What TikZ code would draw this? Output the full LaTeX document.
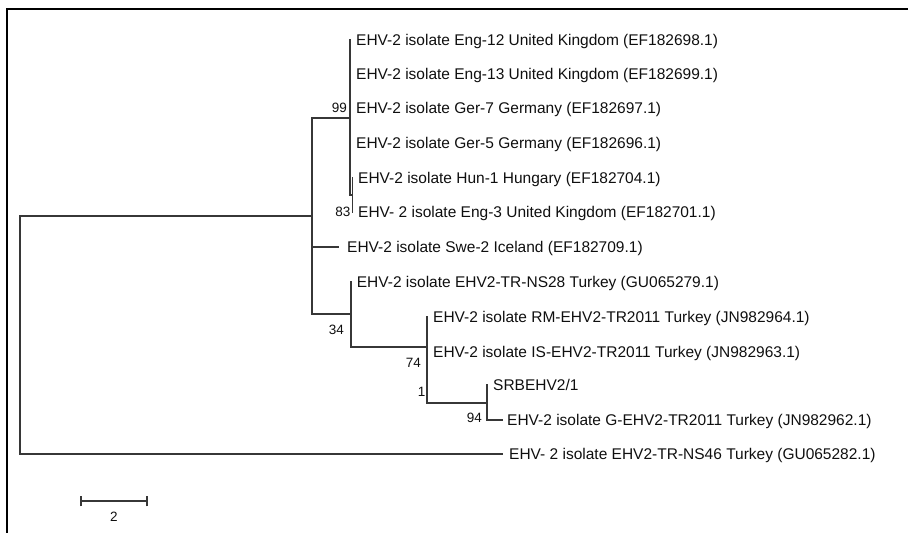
\documentclass[tikz,border=0pt]{standalone}
\usepackage{fontspec}
\setmainfont{Liberation Sans}
\definecolor{treegray}{RGB}{55,55,55}
\definecolor{txt}{RGB}{15,15,15}
\begin{document}
\begin{tikzpicture}[x=1pt,y=-1pt,
  br/.style={draw=treegray, line width=1.7pt, line cap=rect},
  leaf/.style={anchor=base west, inner sep=0pt, text=txt, font=\fontsize{15.5}{17}\selectfont},
  boot/.style={anchor=base east, inner sep=0pt, text=txt, font=\fontsize{13.5}{15}\selectfont},
  frame/.style={draw=black, line width=1.7pt}]
\useasboundingbox (0,0) rectangle (908,533);
% frame
\coordinate (fbl) at (7,533);
\coordinate (ftl) at (7,9);
\coordinate (ftr) at (908,9);
\draw[frame] (fbl) -- (ftl) -- (ftr);

% leaf tips
\coordinate (t1) at (350,40);
\coordinate (t2) at (350,74);
\coordinate (t3) at (350,108);
\coordinate (t4) at (350,143);
\coordinate (t5) at (352.5,178);
\coordinate (t6) at (352.5,212);
\coordinate (t7) at (338,247);
\coordinate (t8) at (350.7,282);
\coordinate (t9) at (426.7,317);
\coordinate (t10) at (426.7,352);
\coordinate (t11) at (487,385);
\coordinate (t12) at (501.7,420);
\coordinate (t13) at (501.7,454.3);

% internal nodes
\coordinate (root) at (20,216);
\coordinate (nA) at (311.7,216);
\coordinate (nA1) at (311.7,118);
\coordinate (nA2) at (311.7,314);
\coordinate (n99) at (350,118);
\coordinate (n99b) at (350,195);
\coordinate (n83) at (352.5,195);
\coordinate (n34) at (350.7,314);
\coordinate (n34b) at (350.7,346.7);
\coordinate (n74) at (426.7,346.7);
\coordinate (n74b) at (426.7,403);
\coordinate (n94) at (487,403);
\coordinate (n94b) at (487,420);

% labels
\node[leaf] (l1) at (356,45.5) {EHV-2 isolate Eng-12 United Kingdom (EF182698.1)};
\node[leaf] (l2) at (356,79.5) {EHV-2 isolate Eng-13 United Kingdom (EF182699.1)};
\node[leaf] (l3) at (356,113.5) {EHV-2 isolate Ger-7 Germany (EF182697.1)};
\node[leaf] (l4) at (356,148.5) {EHV-2 isolate Ger-5 Germany (EF182696.1)};
\node[leaf] (l5) at (358,183.5) {EHV-2 isolate Hun-1 Hungary (EF182704.1)};
\node[leaf] (l6) at (358,217.5) {EHV- 2 isolate Eng-3 United Kingdom (EF182701.1)};
\node[leaf] (l7) at (347,252.5) {EHV-2 isolate Swe-2 Iceland (EF182709.1)};
\node[leaf] (l8) at (356.7,287.5) {EHV-2 isolate EHV2-TR-NS28 Turkey (GU065279.1)};
\node[leaf] (l9) at (433,322.5) {EHV-2 isolate RM-EHV2-TR2011 Turkey (JN982964.1)};
\node[leaf] (l10) at (433,357.5) {EHV-2 isolate IS-EHV2-TR2011 Turkey (JN982963.1)};
\node[leaf] (l11) at (493,390.5) {SRBEHV2/1};
\node[leaf] (l12) at (507,425.5) {EHV-2 isolate G-EHV2-TR2011 Turkey (JN982962.1)};
\node[leaf] (l13) at (509,459.8) {EHV- 2 isolate EHV2-TR-NS46 Turkey (GU065282.1)};

% bootstrap values
\node[boot] (b99) at (347,112.5) {99};
\node[boot] (b83) at (350.5,216) {83};
\node[boot] (b34) at (344,334) {34};
\node[boot] (b74) at (421,367) {74};
\node[boot] (b1) at (425.5,396) {1};
\node[boot] (b94) at (482,422) {94};

% branches
\draw[br] (nA) -- (root) |- (t13);
\draw[br] (nA1) -- (nA2);
\draw[br] (nA1) -- (n99);
\draw[br] (t1) -- (n99b) -- (n83);
\draw[br] (t5) -- (t6);
\draw[br] (nA) |- (t7);
\draw[br] (nA2) -- (n34);
\draw[br] (t8) -- (n34b) -- (n74);
\draw[br] (t9) -- (n74b) -- (n94);
\draw[br] (t11) -- (n94b) -- (t12);

% scale bar
\coordinate (s1) at (81,501.3);
\coordinate (s2) at (147,501.3);
\draw[br] (s1) -- (s2);
\draw[br, line cap=butt] ([yshift=-5pt]s1) -- ([yshift=5pt]s1);
\draw[br, line cap=butt] ([yshift=-5pt]s2) -- ([yshift=5pt]s2);
\node[boot, anchor=base] (sl) at (114,521) {2};
\end{tikzpicture}
\end{document}
